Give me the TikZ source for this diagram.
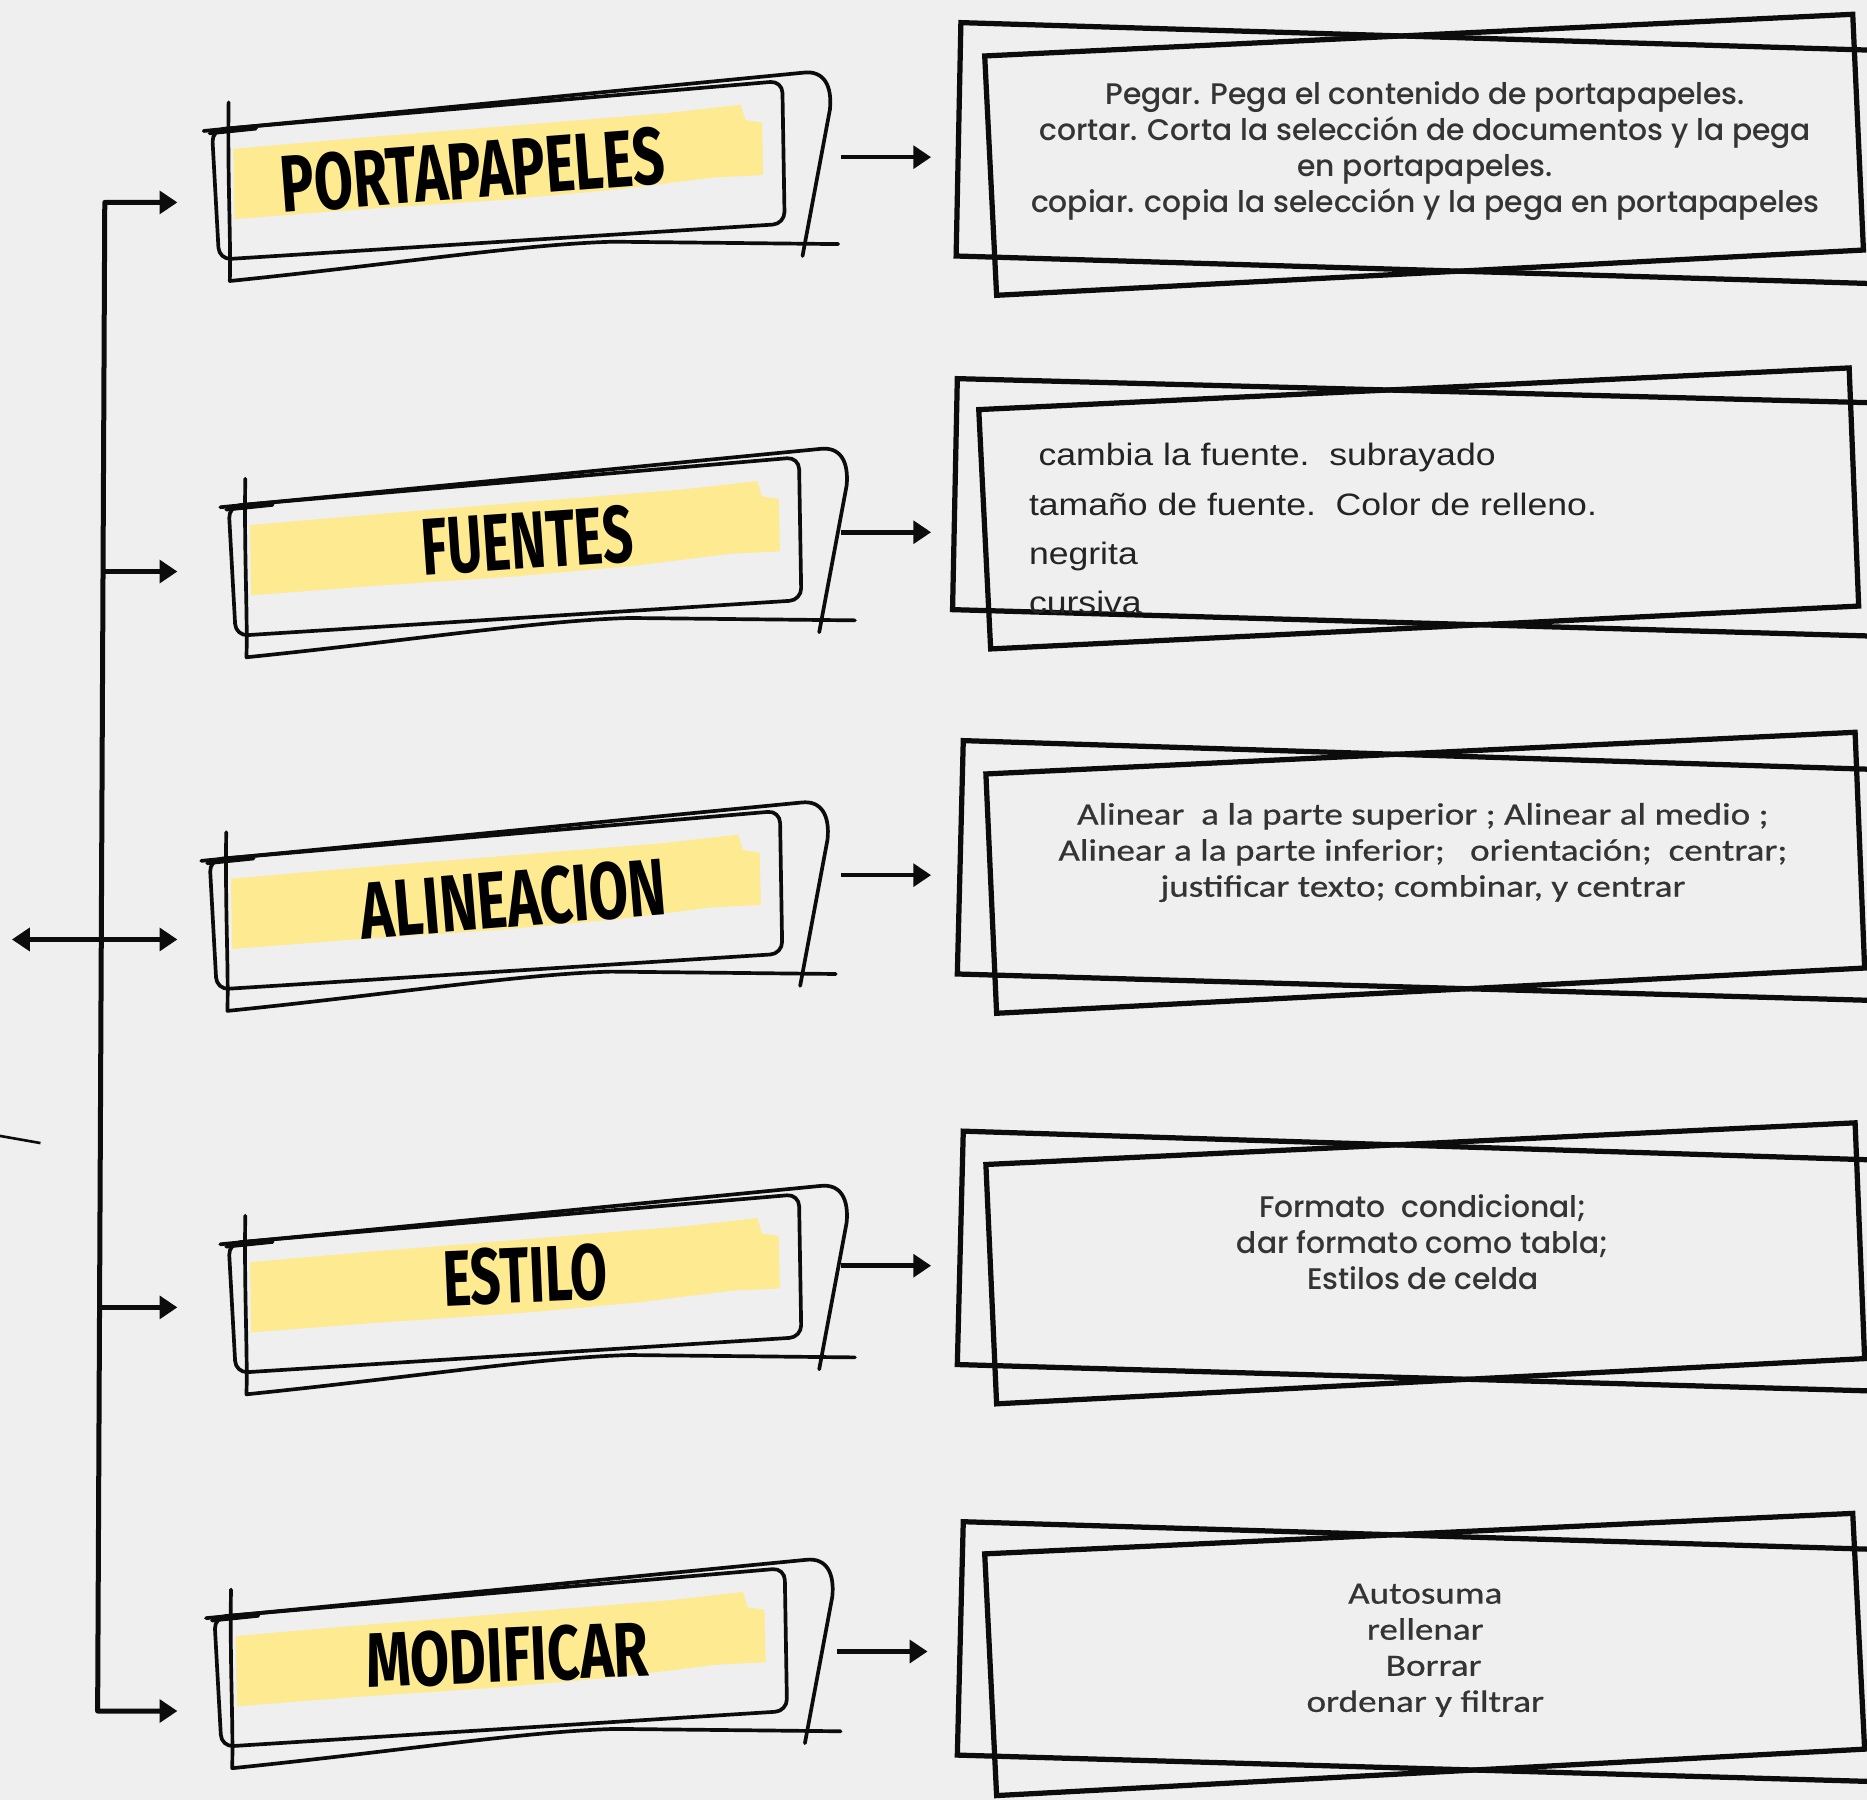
\documentclass[tikz,border=0pt]{standalone}
\usepackage{fontspec}
\setmainfont{Liberation Sans}
\newfontfamily\titlefont{Fira Sans}
\newfontfamily\geofont{Poppins}[UprightFont=* Medium]
\newfontfamily\califont{Carlito}[FakeStretch=1.2, FakeBold=0.6]
\newfontfamily\arialfont{Liberation Sans}[FakeStretch=1.15]
\usetikzlibrary{arrows.meta}
\definecolor{bg}{RGB}{239,239,239}
\definecolor{hl}{RGB}{253,234,145}
\definecolor{ink}{RGB}{12,12,12}
\definecolor{txt}{RGB}{52,52,52}
\tikzset{
  sketch/.style={draw=ink, line width=3.1pt, line cap=round, line join=round},
  frame/.style={draw=ink, line width=4.4pt, line join=miter},
  conn/.style={draw=ink, line width=4.2pt, -{Triangle[length=15pt,width=19pt]}},
  dconn/.style={draw=ink, line width=4.2pt, {Triangle[length=15pt,width=19pt]}-{Triangle[length=15pt,width=19pt]}},
  title/.style={inner sep=0pt, text=black},
  geotext/.style={align=center, text=txt, inner sep=0pt, font=\geofont\fontsize{25}{30.3}\selectfont},
  calitext/.style={align=center, text=txt, inner sep=0pt, font=\califont\fontsize{26}{30.3}\selectfont},
  ariatext/.style={align=left, text=ink!90, inner sep=0pt, font=\arialfont\fontsize{26}{41.5}\selectfont},
}
\newcommand{\titleframe}[1]{%
  \begin{scope}[shift={#1}]
    \fill[hl] (196,125) -- (300,116) -- (560,95) -- (622,88) -- (626,101) -- (640,103)
      -- (641,147) -- (600,149) -- (520,159) -- (420,168) -- (300,176) -- (197,184) -- cycle;
    \draw[sketch, rounded corners=10pt] (178,109) -- (657,68) -- (659,188) -- (184,218) -- cycle;
    \draw[sketch] (171,110) -- (675,61) .. controls (692,59) and (699,72) .. (697,92) -- (674,215);
    \draw[sketch] (176,112) -- (215,108);
    \draw[sketch] (192,86) .. controls (191,150) and (194,200) .. (193,236)
      .. controls (330,222) and (440,205) .. (515,203) -- (704,205);
  \end{scope}}
\begin{document}
\begin{tikzpicture}[x=1pt,y=-1pt]
\useasboundingbox (0,0) rectangle (1568,1512);
\fill[bg] (0,0) rectangle (1568,1512);
\clip (0,0) rectangle (1568,1512);

% left hand-drawn title frames
\titleframe{(0,0)}
\titleframe{(14,316)}
\titleframe{(-2,613)}
\titleframe{(14,935)}
\titleframe{(2,1249)}

\node[title, rotate=4.4] (t1) at (397,143) {\resizebox{324pt}{48pt}{\titlefont\bfseries PORTAPAPELES}};
\node[title, rotate=4.0] (t2) at (443,454) {\resizebox{178pt}{48pt}{\titlefont\bfseries FUENTES}};
\node[title, rotate=4.8] (t3) at (431,755) {\resizebox{257pt}{48pt}{\titlefont\bfseries ALINEACION}};
\node[title, rotate=2.5] (t4) at (441,1071) {\resizebox{138pt}{47pt}{\titlefont\bfseries ESTILO}};
\node[title, rotate=2.5] (t5) at (426,1390) {\resizebox{237pt}{46pt}{\titlefont\bfseries MODIFICAR}};

% right frames
\draw[frame] (1600,43) -- (807,19) -- (803,215) -- (1600,239);
\draw[frame] (827,47) -- (1556,12) -- (1565,210) -- (837,248) -- cycle;

\draw[frame] (1600,339) -- (804,318) -- (800,512) -- (1600,535);
\draw[frame] (822,344) -- (1553,309) -- (1561,509) -- (832,545) -- cycle;

\draw[frame] (1600,647) -- (809,622) -- (804,818) -- (1600,841);
\draw[frame] (828,650) -- (1558,615) -- (1566,813) -- (837,851) -- cycle;

\draw[frame] (1600,975) -- (809,950) -- (804,1146) -- (1600,1169);
\draw[frame] (828,978) -- (1558,943) -- (1566,1141) -- (837,1179) -- cycle;

\draw[frame] (1600,1302) -- (809,1278) -- (804,1474) -- (1600,1497);
\draw[frame] (827,1305) -- (1556,1271) -- (1566,1469) -- (837,1508) -- cycle;

% right texts
\node[geotext] (d1) at (1197,127) {Pegar. Pega el contenido de portapapeles.\\cortar. Corta la selección de documentos y la pega\\en portapapeles.\\copiar. copia la selección y la pega en portapapeles};
\node[ariatext, anchor=west] (d2) at (864,444) {\hspace*{8pt}cambia la fuente.\ \ subrayado\\tamaño de fuente.\ \ Color de relleno.\\negrita\\cursiva};
\node[calitext] (d3) at (1195,716) {Alinear\ \ a la parte superior ; Alinear al medio ;\\Alinear a la parte inferior;\ \ \ orientación;\ \ centrar;\\justificar texto; combinar, y centrar};
\node[geotext] (d4) at (1195,1043) {Formato\ \ condicional;\\dar formato como tabla;\\Estilos de celda};
\node[calitext] (d5) at (1197,1386) {Autosuma\\rellenar\\\ \ Borrar\\ordenar y filtrar};

% trunk and branches
\coordinate (e1) at (149,170);
\coordinate (c1) at (88,170);
\coordinate (c5) at (82,1437);
\coordinate (e5) at (149,1437);
\coordinate (b2) at (86.5,480);
\coordinate (e2) at (149,480);
\coordinate (w3) at (10,789);
\coordinate (e3) at (149,789);
\coordinate (b4) at (83.6,1098);
\coordinate (e4) at (149,1098);
\draw[dconn, line join=round] (e1) -- (c1) -- (c5) -- (e5);
\draw[conn] (b2) -- (e2);
\draw[dconn] (w3) -- (e3);
\draw[conn] (b4) -- (e4);
\coordinate (s1) at (0,954);
\coordinate (s2) at (34,960);
\draw[ink, line width=2.2pt] (s1) -- (s2);

% arrows title -> description
\coordinate (r1a) at (706,132); \coordinate (r1b) at (782,132);
\coordinate (r2a) at (706,447); \coordinate (r2b) at (782,447);
\coordinate (r3a) at (706,735); \coordinate (r3b) at (782,735);
\coordinate (r4a) at (706,1063); \coordinate (r4b) at (782,1063);
\coordinate (r5a) at (703,1387); \coordinate (r5b) at (779,1387);
\draw[conn, line width=3.8pt] (r1a) -- (r1b);
\draw[conn, line width=3.8pt] (r2a) -- (r2b);
\draw[conn, line width=3.8pt] (r3a) -- (r3b);
\draw[conn, line width=3.8pt] (r4a) -- (r4b);
\draw[conn, line width=3.8pt] (r5a) -- (r5b);
\end{tikzpicture}
\end{document}
